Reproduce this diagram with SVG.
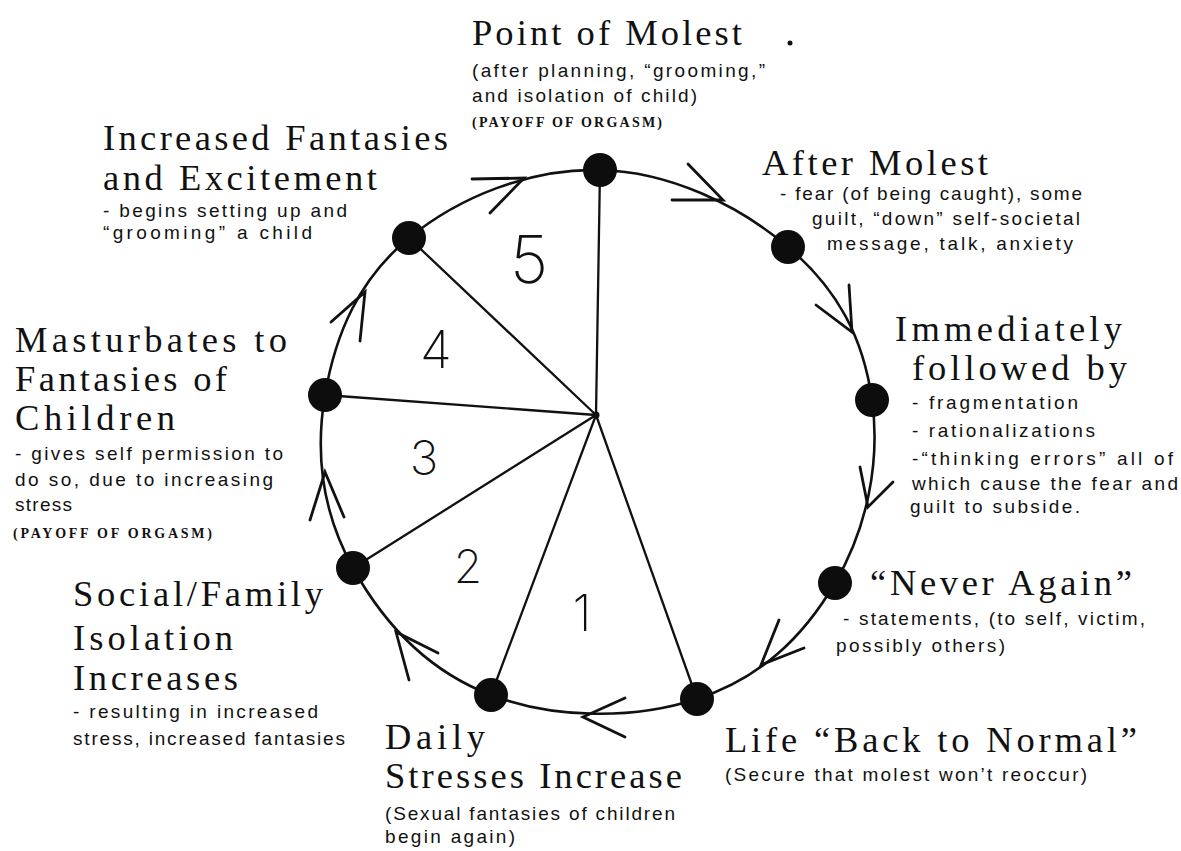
<svg xmlns="http://www.w3.org/2000/svg" width="1181" height="851" viewBox="0 0 1181 851">
<style>
  .h { font-family: "Liberation Serif", "DejaVu Serif", serif; font-size: 36.5px; fill: #111; }
  .b { font-family: "Liberation Sans", "Noto Sans", sans-serif; font-size: 19px; fill: #111; }
  .sc { font-family: "Liberation Serif", "DejaVu Serif", serif; font-size: 14px; font-weight: bold; fill: #111; }
  .num { font-family: Inter, "DejaVu Sans", sans-serif; font-weight: 200; fill: #111; text-anchor: middle; }
  .arc { fill: none; stroke: #111; stroke-width: 2.6; stroke-linecap: round; }
  .spoke { fill: none; stroke: #111; stroke-width: 2.3; stroke-linecap: round; }
  .arrow { fill: none; stroke: #111; stroke-width: 2.8; stroke-linecap: round; stroke-linejoin: miter; }
  .node { fill: #0d0d0d; }
</style>
<rect width="1181" height="851" fill="#fff"/>

<g id="connectors">
  <g id="spokes">
    <path class="spoke" d="M596,415 L600,170"/>
    <path class="spoke" d="M596,415 L409,238"/>
    <path class="spoke" d="M596,415 L325,395"/>
    <path class="spoke" d="M596,415 L353,568"/>
    <path class="spoke" d="M596,415 L491,695"/>
    <path class="spoke" d="M596,415 L697,699"/>
    <circle cx="596" cy="415" r="3.5" fill="#111"/>
  </g>
  <g id="cycle">
    <path class="arc" d="M600,170 C669.5,171.7 738.1,204.8 788,247"/>
    <path class="arc" d="M788,247 C837.9,289.2 863.4,338.4 872,400"/>
    <path class="arc" d="M872,400 C880.6,461.6 867.1,528.2 835,583"/>
    <path class="arc" d="M835,583 C802.9,637.8 760.1,678.4 697,699"/>
    <path class="arc" d="M697,699 C633.9,719.6 554.1,719 491,695"/>
    <path class="arc" d="M491,695 C427.9,671 383.5,623 353,568"/>
    <path class="arc" d="M353,568 C322.5,513 314.7,455.6 325,395"/>
    <path class="arc" d="M325,395 C335.3,334.4 358.6,279.3 409,238"/>
    <path class="arc" d="M409,238 C459.4,196.7 530.5,168.3 600,170"/>
  </g>
  <g id="arrowheads">
    <path class="arrow" d="M472,179 L524,178 L490,213"/>
    <path class="arrow" d="M688,164 L723,200 L672,200"/>
    <path class="arrow" d="M849,285 L852,332 L816,305"/>
    <path class="arrow" d="M860,467 L868,507 L893,482"/>
    <path class="arrow" d="M779,620 L761,665 L804,648"/>
    <path class="arrow" d="M625,698 L583,717 L625,737"/>
    <path class="arrow" d="M438,653 L396,632 L409,680"/>
    <path class="arrow" d="M310,520 L325,472 L344,517"/>
    <path class="arrow" d="M331,322 L365,292 L360,341"/>
  </g>
</g>

<g id="sectors">
  <text class="num" x="529" y="283" font-size="66">5</text>
  <text class="num" x="436" y="368" font-size="52">4</text>
  <text class="num" x="424" y="475" font-size="48">3</text>
  <text class="num" x="468" y="583" font-size="46">2</text>
  <text class="num" x="582" y="631" font-size="50">1</text>
</g>

<g id="node-point-of-molest">
  <circle class="node" cx="600" cy="170" r="17"/>
  <text class="h" x="472" y="45" textLength="270">Point of Molest</text>
  <text class="b" x="472" y="77" textLength="293">(after planning, “grooming,”</text>
  <text class="b" x="472" y="102" textLength="225">and isolation of child)</text>
  <text class="sc" x="472" y="127" textLength="190">(PAYOFF OF ORGASM)</text>
  <circle cx="790" cy="43" r="2.5" fill="#111"/>
</g>

<g id="node-after-molest">
  <circle class="node" cx="788" cy="247" r="17"/>
  <text class="h" x="762" y="175" textLength="226">After Molest</text>
  <text class="b" x="780" y="200" textLength="302">- fear (of being caught), some</text>
  <text class="b" x="812" y="225" textLength="268">guilt, “down” self-societal</text>
  <text class="b" x="827" y="250" textLength="246">message, talk, anxiety</text>
</g>

<g id="node-immediately">
  <circle class="node" cx="872" cy="400" r="17"/>
  <text class="h" x="895" y="341" textLength="227">Immediately</text>
  <text class="h" x="912" y="380" textLength="215">followed by</text>
  <text class="b" x="912" y="409" textLength="166">- fragmentation</text>
  <text class="b" x="912" y="437" textLength="183">- rationalizations</text>
  <text class="b" x="912" y="465" textLength="261">-“thinking errors” all of</text>
  <text class="b" x="912" y="490" textLength="266">which cause the fear and</text>
  <text class="b" x="910" y="513" textLength="170">guilt to subside.</text>
</g>

<g id="node-never-again">
  <circle class="node" cx="835" cy="583" r="17"/>
  <text class="h" x="870" y="595" textLength="262">“Never Again”</text>
  <text class="b" x="843" y="625" textLength="302">- statements, (to self, victim,</text>
  <text class="b" x="836" y="652" textLength="169">possibly others)</text>
</g>

<g id="node-back-to-normal">
  <circle class="node" cx="697" cy="699" r="17"/>
  <text class="h" x="725" y="752" textLength="412">Life “Back to Normal”</text>
  <text class="b" x="725" y="781" textLength="362">(Secure that molest won’t reoccur)</text>
</g>

<g id="node-daily-stresses">
  <circle class="node" cx="491" cy="695" r="17"/>
  <text class="h" x="385" y="749" textLength="100">Daily</text>
  <text class="h" x="385" y="788" textLength="297">Stresses Increase</text>
  <text class="b" x="385" y="820" textLength="290">(Sexual fantasies of children</text>
  <text class="b" x="385" y="843" textLength="130">begin again)</text>
</g>

<g id="node-isolation">
  <circle class="node" cx="353" cy="568" r="17"/>
  <text class="h" x="73" y="606" textLength="250">Social/Family</text>
  <text class="h" x="73" y="650" textLength="160">Isolation</text>
  <text class="h" x="73" y="690" textLength="165">Increases</text>
  <text class="b" x="73" y="718" textLength="245">- resulting in increased</text>
  <text class="b" x="73" y="745" textLength="272">stress, increased fantasies</text>
</g>

<g id="node-masturbates">
  <circle class="node" cx="325" cy="395" r="17"/>
  <text class="h" x="15" y="352" textLength="272">Masturbates to</text>
  <text class="h" x="15" y="391" textLength="212">Fantasies of</text>
  <text class="h" x="15" y="430" textLength="160">Children</text>
  <text class="b" x="15" y="460" textLength="268">- gives self permission to</text>
  <text class="b" x="15" y="486" textLength="258">do so, due to increasing</text>
  <text class="b" x="15" y="511" textLength="57">stress</text>
  <text class="sc" x="13" y="538" textLength="199">(PAYOFF OF ORGASM)</text>
</g>

<g id="node-increased-fantasies">
  <circle class="node" cx="409" cy="238" r="17"/>
  <text class="h" x="103" y="150" textLength="345">Increased Fantasies</text>
  <text class="h" x="103" y="190" textLength="274">and Excitement</text>
  <text class="b" x="103" y="217" textLength="244">- begins setting up and</text>
  <text class="b" x="103" y="239" textLength="209">“grooming” a child</text>
</g>
</svg>
